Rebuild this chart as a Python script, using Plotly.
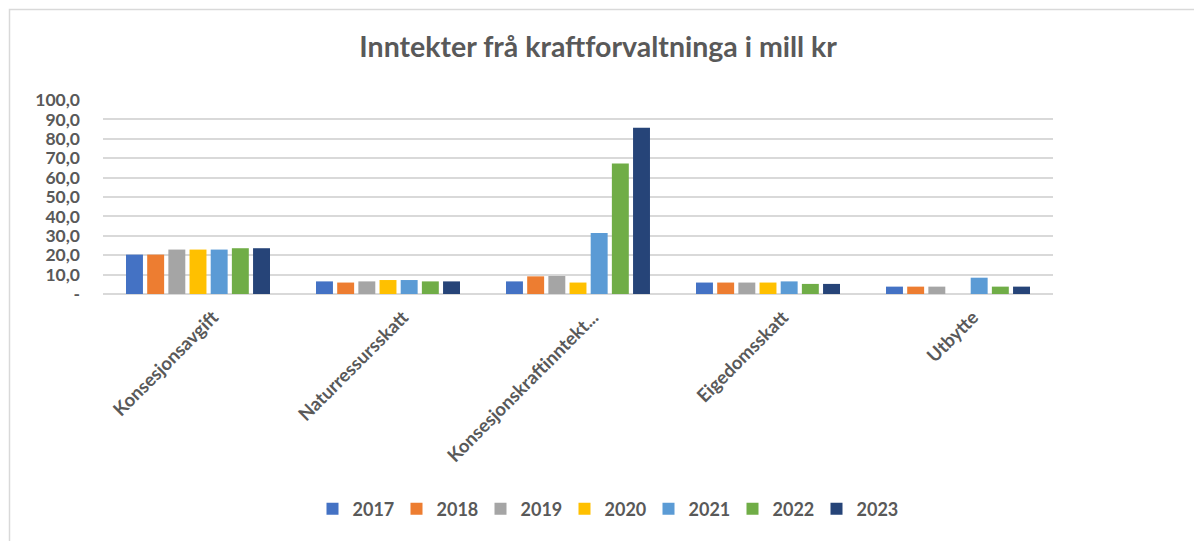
import plotly.graph_objects as go

categories = ["Konsesjonsavgift", "Naturressursskatt", "Konsesjonskraftinntekt...", "Eigedomsskatt", "Utbytte"]
years = ["2017", "2018", "2019", "2020", "2021", "2022", "2023"]
values = {
    "2017": [20.3, 6.5, 6.5, 5.9, 3.8],
    "2018": [20.3, 5.9, 9.1, 5.9, 3.8],
    "2019": [22.9, 6.5, 9.3, 5.9, 3.8],
    "2020": [22.9, 7.2, 5.9, 5.9, 0.0],
    "2021": [22.9, 7.2, 31.5, 6.5, 8.4],
    "2022": [23.6, 6.5, 67.3, 5.2, 3.8],
    "2023": [23.6, 6.5, 85.7, 5.2, 3.8],
}
colors = ["#4472C4", "#ED7D31", "#A5A5A5", "#FFC000", "#5B9BD5", "#70AD47", "#264478"]
tick_vals = [0, 10, 20, 30, 40, 50, 60, 70, 80, 90, 100]
tick_text = ["-", "10,0", "20,0", "30,0", "40,0", "50,0", "60,0", "70,0", "80,0", "90,0", "100,0"]

fig = go.Figure()
for y, c in zip(years, colors):
    fig.add_trace(go.Bar(name=y, x=categories, y=values[y], marker=dict(color=c, line=dict(width=0))))

font = "Lato, 'Open Sans', sans-serif"
fig.update_layout(
    width=1202, height=541,
    margin=dict(l=95, r=157, t=92, b=255),
    paper_bgcolor="white", plot_bgcolor="white",
    barmode="group", bargap=0.22, bargroupgap=0.2,
    title=dict(text="<b>Inntekter frå kraftforvaltninga i mill kr</b>", x=0.491, xref="container",
               y=1 - 39 / 541, yanchor="middle",
               font=dict(family=font, size=28.5, color="#595959")),
    font=dict(family=font, color="#595959"),
    showlegend=True,
    legend=dict(orientation="h", x=0.53, xanchor="center", y=-1.108, yanchor="middle",
                font=dict(family=font, size=18, color="#595959", weight="bold"), traceorder="normal",
                itemwidth=30, entrywidth=39, entrywidthmode="pixels"),
    xaxis=dict(tickangle=-45, tickfont=dict(family=font, size=18.5, color="#595959", weight="bold"),
               showline=False, showgrid=False, ticks="", ticklabelshift=15, ticklabelstandoff=8),
    yaxis=dict(range=[0, 100], tickvals=tick_vals, ticktext=tick_text,
               tickfont=dict(family=font, size=17.5, color="#595959", weight="bold"),
               showgrid=True, gridcolor="#D9D9D9", gridwidth=1.5,
               zeroline=True, zerolinecolor="#D9D9D9", zerolinewidth=1.5,
               showline=False, ticks="", ticklabelstandoff=22),
    shapes=[dict(type="rect", xref="paper", yref="paper",
                 x0=-93.5 / 950, x1=1.3, y0=-2.0, y1=1 + 90.5 / 194,
                 line=dict(color="#D9D9D9", width=1.5), fillcolor="rgba(0,0,0,0)", layer="below")],
)
fig.write_html("out.html")
